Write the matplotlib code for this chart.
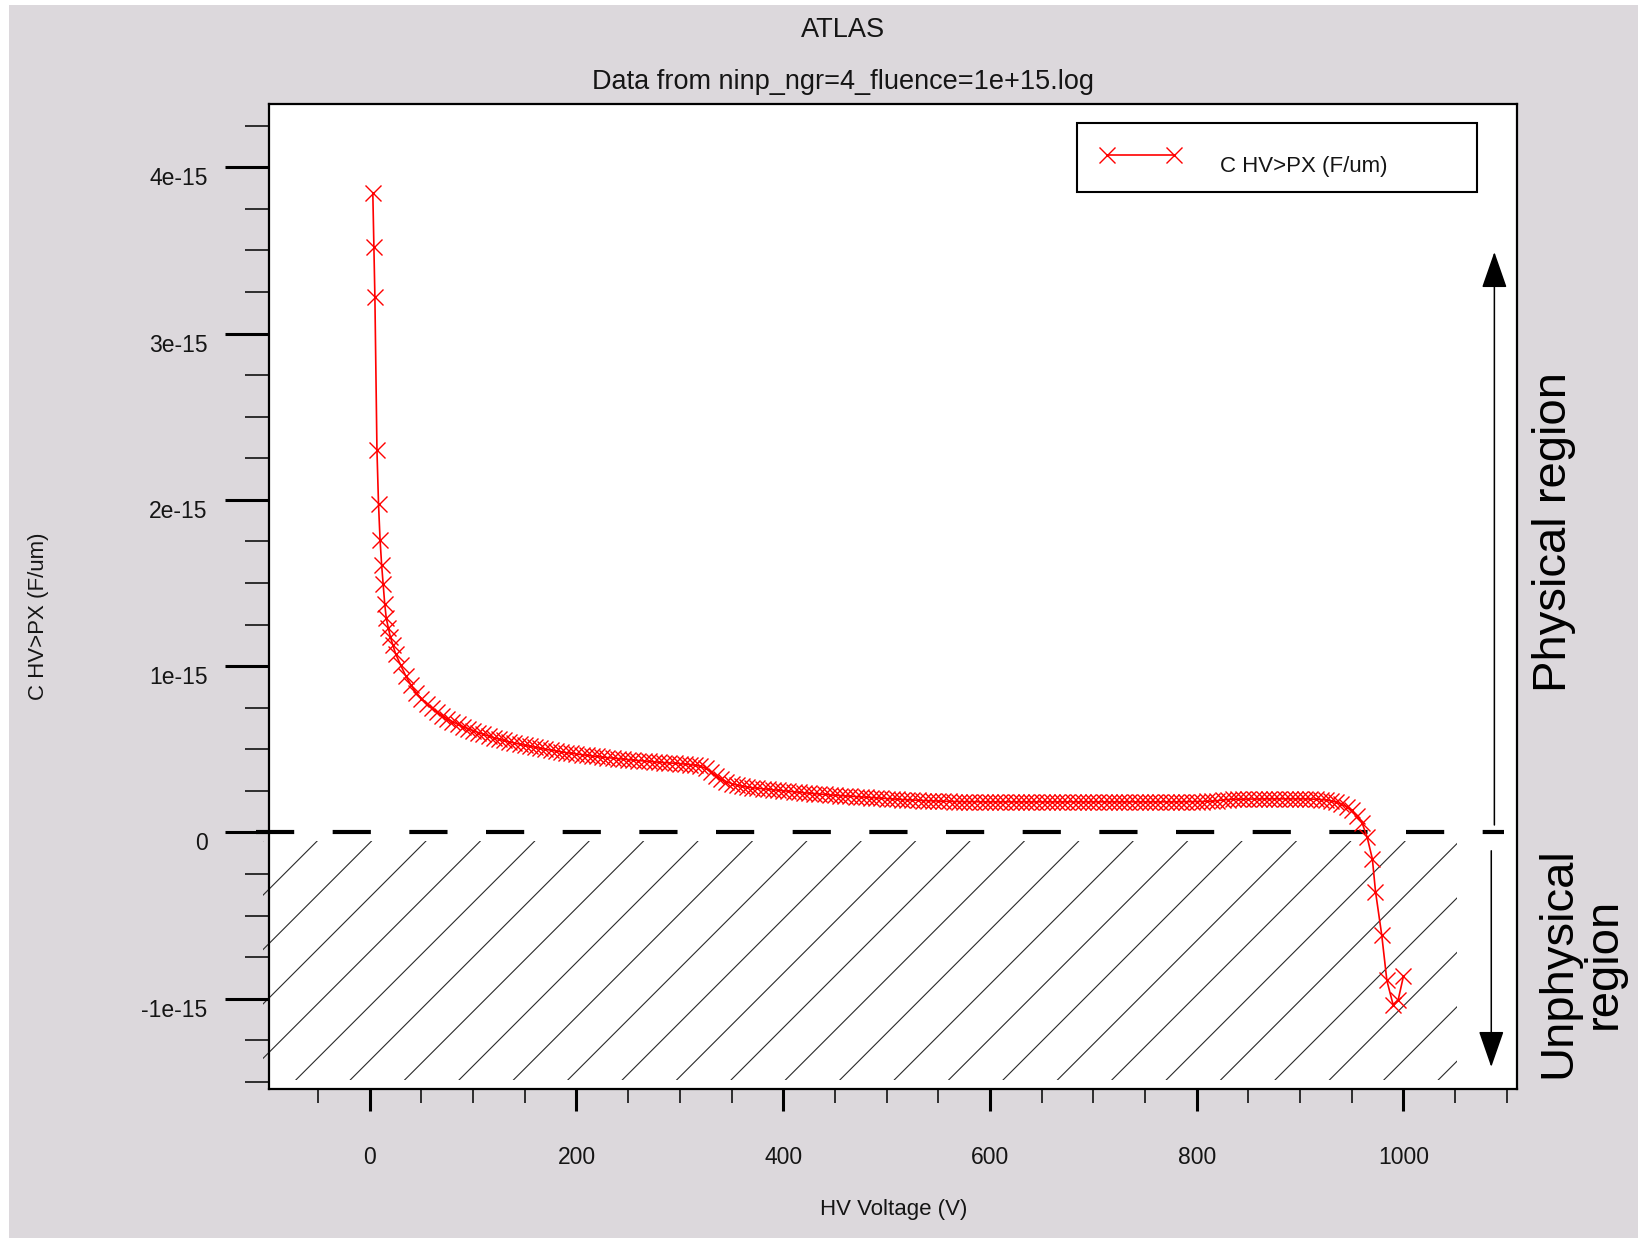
import numpy as np
import matplotlib
matplotlib.use("Agg")
import matplotlib.pyplot as plt
from matplotlib.patches import Rectangle
from matplotlib.collections import LineCollection

plt.rcParams["font.family"] = ["Liberation Sans", "DejaVu Sans"]
plt.rcParams["lines.scale_dashes"] = False

# HV voltage sweep (V)
voltage = [
    3, 4, 5, 7, 8.5, 10, 11.5, 13, 14.5, 16, 18, 20, 22.5, 25,
    30, 35, 40, 45, 50, 55, 60, 65, 70, 75,
    80, 85, 90, 95, 100, 105, 110, 115, 120, 125,
    130, 135, 140, 145, 150, 155, 160, 165, 170, 175,
    180, 185, 190, 195, 200, 205, 210, 215, 220, 225,
    230, 235, 240, 245, 250, 255, 260, 265, 270, 275,
    280, 285, 290, 295, 300, 305, 310, 315, 320, 325,
    330, 335, 340, 345, 350, 355, 360, 365, 370, 375,
    380, 385, 390, 395, 400, 405, 410, 415, 420, 425,
    430, 435, 440, 445, 450, 455, 460, 465, 470, 475,
    480, 485, 490, 495, 500, 505, 510, 515, 520, 525,
    530, 535, 540, 545, 550, 555, 560, 565, 570, 575,
    580, 585, 590, 595, 600, 605, 610, 615, 620, 625,
    630, 635, 640, 645, 650, 655, 660, 665, 670, 675,
    680, 685, 690, 695, 700, 705, 710, 715, 720, 725,
    730, 735, 740, 745, 750, 755, 760, 765, 770, 775,
    780, 785, 790, 795, 800, 805, 810, 815, 820, 825,
    830, 835, 840, 845, 850, 855, 860, 865, 870, 875,
    880, 885, 890, 895, 900, 905, 910, 915, 920, 925,
    930, 935, 940, 945, 950, 955, 960,
    965, 970, 973, 979, 984, 990, 995, 1000,
]

# capacitance C HV>PX, in units of 1e-15 F/um
cap = [
    3.844, 3.521, 3.221, 2.298, 1.976, 1.761, 1.611, 1.493, 1.375, 1.289,
    1.230, 1.175, 1.125, 1.075,
    1.005, 0.940, 0.885, 0.840, 0.805, 0.775, 0.748, 0.724, 0.703, 0.684,
    0.667, 0.651, 0.637, 0.624, 0.612, 0.601, 0.590, 0.580, 0.570, 0.561,
    0.553, 0.545, 0.538, 0.531, 0.524, 0.518, 0.512, 0.506, 0.500, 0.495,
    0.490, 0.485, 0.480, 0.476, 0.472, 0.468, 0.464, 0.460, 0.457, 0.453,
    0.450, 0.447, 0.444, 0.441, 0.438, 0.435, 0.432, 0.430, 0.427, 0.425,
    0.422, 0.420, 0.418, 0.416, 0.414, 0.411, 0.408, 0.404, 0.398, 0.385,
    0.365, 0.342, 0.322, 0.306, 0.294, 0.285, 0.278, 0.273, 0.269, 0.266,
    0.263, 0.260, 0.257, 0.254, 0.251, 0.248, 0.245, 0.242, 0.239, 0.236,
    0.234, 0.231, 0.229, 0.226, 0.224, 0.222, 0.220, 0.218, 0.216, 0.214,
    0.212, 0.210, 0.208, 0.206, 0.204, 0.202, 0.200, 0.198, 0.197, 0.195,
    0.194, 0.192, 0.191, 0.190, 0.189, 0.188, 0.187, 0.186, 0.186, 0.185,
    0.185, 0.185, 0.184, 0.184, 0.184, 0.184, 0.184, 0.184, 0.184, 0.184,
    0.184, 0.184, 0.184, 0.184, 0.184, 0.184, 0.184, 0.184, 0.184, 0.184,
    0.184, 0.184, 0.184, 0.184, 0.184, 0.184, 0.184, 0.184, 0.184, 0.184,
    0.184, 0.184, 0.184, 0.184, 0.184, 0.184, 0.184, 0.184, 0.184, 0.184,
    0.184, 0.185, 0.185, 0.185, 0.186, 0.186, 0.187, 0.188, 0.191, 0.195,
    0.198, 0.199, 0.200, 0.200, 0.201, 0.201, 0.201, 0.202, 0.202, 0.202,
    0.202, 0.202, 0.202, 0.202, 0.202, 0.202, 0.201, 0.200, 0.198, 0.195,
    0.190, 0.182, 0.170, 0.155, 0.133, 0.100, 0.058,
    -0.030, -0.160, -0.355, -0.615, -0.890, -1.035, -1.005, -0.865,
]

x_major = [0, 200, 400, 600, 800, 1000]
y_major = [-1, 0, 1, 2, 3, 4]
y_labels = ["-1e-15", "0", "1e-15", "2e-15", "3e-15", "4e-15"]

BG = "#dcd8dc"
TXT = "#151515"

fig = plt.figure(figsize=(16.38, 12.38), dpi=100, facecolor=BG)
# thin white margins of the screenshot
fig.patches.append(Rectangle((0, 0), 9 / 1638, 1, transform=fig.transFigure,
                             facecolor="white", edgecolor="none", zorder=-5))
fig.patches.append(Rectangle((0, 1 - 5 / 1238), 1, 5 / 1238, transform=fig.transFigure,
                             facecolor="white", edgecolor="none", zorder=-5))

ax = fig.add_axes([0.1645, 0.1200, 0.7617, 0.7956])
ax.set_facecolor("white")

v = np.array(voltage)
c = np.array(cap) * 1e-15

ax.plot(v, c, color="#ff0000", lw=1.2, marker="x", markersize=11,
        markeredgewidth=1.0, label="C HV>PX (F/um)", zorder=4)

ax.set_xlim(-97, 1110)
ax.set_ylim(-1.545e-15, 4.377e-15)

# ticks
ax.set_xticks(x_major)
ax.set_xticks(np.arange(-50, 1101, 50), minor=True)
ax.set_yticks(np.array(y_major) * 1e-15)
ax.set_yticklabels(y_labels)
ax.set_yticks(np.arange(-1.5, 4.3, 0.25) * 1e-15, minor=True)
ax.tick_params(axis="y", which="major", direction="out", length=32, width=2.2,
               pad=12.5, labelsize=16.5, labelcolor=TXT)
ax.tick_params(axis="y", which="minor", direction="out", length=17, width=1.1)
ax.tick_params(axis="x", which="major", direction="out", length=16, width=2.2,
               pad=25, labelsize=16.5, labelcolor=TXT)
ax.tick_params(axis="x", which="minor", direction="out", length=10, width=1.1)
for lbl in ax.get_yticklabels():
    lbl.set_va("top")

for sp in ax.spines.values():
    sp.set_linewidth(1.6)

ax.set_xlabel("HV Voltage (V)", fontsize=16, color=TXT, va="center")
ax.xaxis.set_label_coords(0.5, -0.1223)
ax.set_ylabel("C HV>PX (F/um)", fontsize=16, color=TXT, va="center")
ax.yaxis.set_label_coords(-0.185, 0.4807)

# zero line (dashed, runs slightly past the left spine)
ax.plot([-110, 1097], [0, 0], color="black", lw=3, linestyle=(0, (27.5, 27.7)),
        clip_on=False, zorder=3)

# hatched unphysical region, 45 degree lines
hx0, hx1 = -103, 1052
hy0, hy1 = -1.49e-15, -0.05e-15
p0 = ax.transData.transform((hx0, hy0))
p1 = ax.transData.transform((hx1, hy1))
o = ax.transData.transform((0, 0))
pitch, phase = 54.4, 10.4
base = o[0] - o[1] + phase
k_lo = p0[0] - p1[1]
k_hi = p1[0] - p0[1]
n_lo = int(np.floor((k_lo - base) / pitch)) - 1
n_hi = int(np.ceil((k_hi - base) / pitch)) + 1
inv = ax.transData.inverted()
segs = []
for n in range(n_lo, n_hi + 1):
    k = base + n * pitch
    a = inv.transform((k + p0[1], p0[1]))
    b = inv.transform((k + p1[1], p1[1]))
    segs.append([a, b])
hatch = LineCollection(segs, colors="#2a2a2a", linewidths=0.8, zorder=1)
ax.add_collection(hatch)
hatch.set_clip_path(Rectangle((hx0, hy0), hx1 - hx0, hy1 - hy0, transform=ax.transData))

# region arrows
arrow_style = "-|>,head_length=0.46,head_width=0.16"
ax.annotate("", xy=(1088, 3.49e-15), xytext=(1088, 0.045e-15),
            arrowprops=dict(arrowstyle=arrow_style, mutation_scale=50, lw=1.1,
                            color="black", shrinkA=0, shrinkB=0),
            annotation_clip=False)
ax.annotate("", xy=(1085, -1.41e-15), xytext=(1085, -0.11e-15),
            arrowprops=dict(arrowstyle=arrow_style, mutation_scale=50, lw=1.1,
                            color="black", shrinkA=0, shrinkB=0),
            annotation_clip=False)

leg = ax.legend(loc="upper left", bbox_to_anchor=(0.647, 0.907, 0.3205, 0.074),
                mode="expand", borderaxespad=0, numpoints=2, handlelength=3.6,
                handletextpad=1.75, borderpad=1.08,
                fancybox=False, framealpha=1, edgecolor="black",
                prop={"size": 16})
leg.get_frame().set_linewidth(1.5)
for t in leg.get_texts():
    t.set_color(TXT)
    t.set_y(-9)  # label sits a little below the sample line

fig.text(843 / 1638, 1 - 30 / 1238, "ATLAS", ha="center", va="center",
         fontsize=19.5, color=TXT)
fig.text(843 / 1638, 1 - 82 / 1238, "Data from ninp_ngr=4_fluence=1e+15.log",
         ha="center", va="center", fontsize=19.5, color=TXT)

fig.text(1554 / 1638, 1 - 532 / 1238, "Physical region", rotation=90,
         ha="center", va="center", fontsize=34, color="black")
fig.text(1581 / 1638, 1 - 963 / 1238, "Unphysical\nregion", rotation=90,
         ha="center", va="center", multialignment="center", linespacing=1.06,
         fontsize=34, color="black")

fig.savefig("out.png", dpi=100, facecolor=fig.get_facecolor())
